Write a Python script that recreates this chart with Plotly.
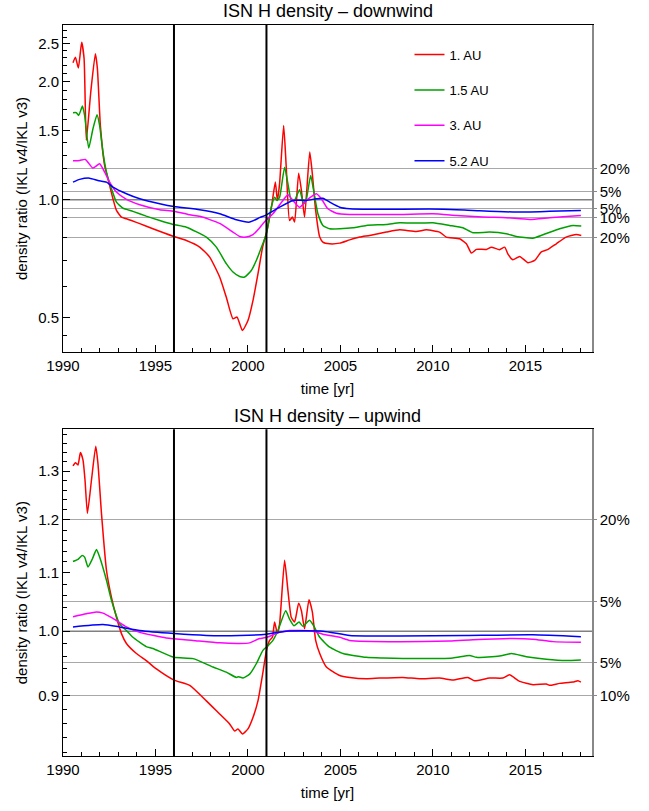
import numpy as np
import plotly.graph_objects as go

# ---------------- data: downwind ----------------
down_t_1au = [1990.54, 1990.67, 1990.83, 1991.01, 1991.14, 1991.26, 1991.5, 1991.75, 1991.86, 1992.02,
              1992.25, 1992.52, 1992.7, 1992.89, 1993.16, 1993.43, 1993.7, 1994.15, 1994.86, 1995.95,
              1996.67, 1997.39, 1997.93, 1998.47, 1998.83, 1999.19, 1999.41, 1999.7, 2000.0, 2000.27,
              2000.54, 2000.8, 2001.03, 2001.27, 2001.48, 2001.59, 2001.71, 2001.93, 2002.07, 2002.25,
              2002.4, 2002.52, 2002.74, 2002.89, 2003.06, 2003.34, 2003.48, 2003.66, 2003.88, 2004.05,
              2004.42, 2004.96, 2005.5, 2006.04, 2006.58, 2007.48, 2008.2, 2009.1, 2009.64, 2010.36,
              2010.72, 2011.44, 2011.81, 2012.08, 2012.35, 2012.89, 2013.16, 2013.6, 2013.88, 2014.05,
              2014.32, 2014.69, 2015.14, 2015.5, 2015.86, 2016.2, 2016.67, 2017.2, 2017.75, 2018.02]
down_1au = [2.236, 2.31, 2.167, 2.52, 2.29, 1.417, 1.88, 2.357, 2.16, 1.547,
            1.223, 1.088, 1.006, 0.939, 0.903, 0.894, 0.885, 0.869, 0.843, 0.807,
            0.787, 0.757, 0.714, 0.635, 0.564, 0.497, 0.502, 0.464, 0.492, 0.553,
            0.647, 0.76, 0.835, 0.957, 1.109, 0.996, 1.099, 1.547, 1.211, 0.885,
            0.903, 0.877, 1.169, 1.056, 0.903, 1.323, 1.165, 0.939, 0.803, 0.78,
            0.772, 0.775, 0.79, 0.803, 0.811, 0.827, 0.838, 0.83, 0.838, 0.827,
            0.803, 0.795, 0.772, 0.731, 0.747, 0.747, 0.757, 0.746, 0.757, 0.728,
            0.703, 0.717, 0.691, 0.70, 0.736, 0.746, 0.772, 0.803, 0.815, 0.811]

down_t_15au = [1990.54, 1990.72, 1990.85, 1991.05, 1991.17, 1991.39, 1991.62, 1991.84, 1991.98, 1992.16,
               1992.35, 1992.62, 1992.89, 1993.24, 1993.78, 1994.5, 1995.23, 1995.95, 1996.67, 1997.75,
               1998.29, 1998.83, 1999.19, 1999.55, 1999.82, 2000.18, 2000.45, 2000.77, 2001.0, 2001.26,
               2001.44, 2001.57, 2001.71, 2001.98, 2002.16, 2002.34, 2002.52, 2002.79, 2003.01, 2003.16,
               2003.39, 2003.55, 2003.78, 2004.05, 2004.42, 2004.96, 2005.68, 2006.4, 2007.48, 2008.2,
               2009.1, 2010.0, 2010.9, 2011.62, 2012.16, 2013.06, 2013.96, 2014.5, 2015.4, 2015.95,
               2016.85, 2017.57, 2018.02]
down_15au = [1.667, 1.667, 1.641, 1.733, 1.641, 1.354, 1.517, 1.648, 1.547, 1.323,
             1.176, 1.067, 0.986, 0.952, 0.934, 0.908, 0.885, 0.865, 0.851, 0.803,
             0.757, 0.687, 0.654, 0.637, 0.635, 0.66, 0.70, 0.765, 0.819, 0.957,
             1.015, 0.996, 1.015, 1.211, 1.099, 0.996, 0.996, 1.061, 0.977, 1.006,
             1.153, 1.056, 0.921, 0.86, 0.843, 0.843, 0.848, 0.86, 0.865, 0.874,
             0.872, 0.874, 0.86, 0.848, 0.824, 0.827, 0.819, 0.806, 0.798, 0.814,
             0.843, 0.86, 0.857]

down_t_3au = [1990.54, 1990.9, 1991.21, 1991.62, 1991.98, 1992.25, 1992.52, 1992.89, 1993.43, 1994.15,
              1995.23, 1996.0, 1996.85, 1997.4, 1998.47, 1999.19, 1999.55, 1999.9, 2000.27, 2000.6,
              2000.81, 2001.0, 2001.35, 2001.89, 2002.16, 2002.43, 2002.79, 2003.16, 2003.7, 2003.97,
              2004.32, 2004.78, 2005.5, 2006.58, 2008.2, 2010.0, 2011.26, 2012.7, 2013.96, 2015.23,
              2016.3, 2017.4, 2018.0]
down_3au = [1.257, 1.259, 1.267, 1.204, 1.235, 1.176, 1.109, 1.046, 1.002, 0.971,
            0.943, 0.935, 0.915, 0.907, 0.870, 0.827, 0.806, 0.803, 0.815, 0.845,
            0.869, 0.889, 0.921, 0.996, 1.03, 0.996, 0.957, 0.996, 1.036, 1.006,
            0.948, 0.924, 0.917, 0.917, 0.917, 0.921, 0.912, 0.903, 0.90, 0.891,
            0.90, 0.908, 0.912]

down_t_52au = [1990.54, 1990.9, 1991.44, 1991.89, 1992.35, 1992.7, 1993.43, 1994.15, 1995.23, 1996.0,
               1997.39, 1998.47, 1999.37, 2000.09, 2000.63, 2001.0, 2001.71, 2002.43, 2003.16, 2003.7,
               2004.05, 2004.42, 2004.96, 2005.5, 2006.58, 2008.2, 2010.54, 2012.16, 2014.5, 2016.3,
               2018.0]
down_52au = [1.109, 1.127, 1.135, 1.12, 1.109, 1.077, 1.036, 1.006, 0.977, 0.961,
             0.943, 0.921, 0.889, 0.877, 0.90, 0.915, 0.957, 0.996, 0.996, 1.006,
             1.009, 0.986, 0.957, 0.948, 0.945, 0.946, 0.946, 0.939, 0.93, 0.934,
             0.939]

# ---------------- data: upwind ----------------
up_t_1au = [1990.54, 1990.67, 1990.81, 1990.94, 1991.08, 1991.19, 1991.32, 1991.54, 1991.77, 1991.89,
            1992.08, 1992.35, 1992.62, 1992.89, 1993.16, 1993.43, 1993.97, 1994.5, 1995.05, 1996.0,
            1996.85, 1997.75, 1998.47, 1999.01, 1999.28, 1999.46, 1999.7, 2000.0, 2000.27, 2000.54,
            2000.81, 2001.0, 2001.17, 2001.32, 2001.44, 2001.59, 2001.71, 2001.98, 2002.16, 2002.34,
            2002.52, 2002.74, 2002.89, 2003.06, 2003.3, 2003.48, 2003.66, 2003.88, 2004.24, 2004.96,
            2005.5, 2006.4, 2007.12, 2008.38, 2009.28, 2010.36, 2011.08, 2011.89, 2012.25, 2013.06,
            2013.78, 2014.14, 2014.69, 2015.41, 2016.13, 2016.3, 2016.85, 2017.57, 2017.84, 2018.0]
up_1au = [1.311, 1.318, 1.313, 1.34, 1.324, 1.281, 1.213, 1.281, 1.354, 1.316,
          1.213, 1.105, 1.057, 1.023, 0.996, 0.98, 0.964, 0.953, 0.94, 0.923,
          0.915, 0.892, 0.873, 0.859, 0.849, 0.852, 0.845, 0.852, 0.868, 0.892,
          0.935, 0.969, 0.985, 0.99, 1.015, 0.996, 1.012, 1.123, 1.069, 1.023,
          1.015, 1.047, 1.034, 1.004, 1.053, 1.032, 0.985, 0.964, 0.943, 0.93,
          0.927, 0.925, 0.926, 0.927, 0.925, 0.926, 0.923, 0.927, 0.922, 0.926,
          0.926, 0.931, 0.921, 0.916, 0.917, 0.915, 0.918, 0.92, 0.922, 0.92]

up_t_15au = [1990.54, 1990.81, 1991.03, 1991.17, 1991.35, 1991.59, 1991.81, 1991.98, 1992.35, 1992.62,
             1993.06, 1993.43, 1993.78, 1994.5, 1994.86, 1996.0, 1997.03, 1998.11, 1998.83, 1999.37,
             1999.5, 1999.73, 2000.09, 2000.45, 2000.81, 2001.1, 2001.35, 2001.62, 2002.04, 2002.25,
             2002.49, 2002.76, 2002.97, 2003.33, 2003.55, 2003.88, 2004.42, 2005.14, 2006.4, 2007.3,
             2009.1, 2011.08, 2011.98, 2012.35, 2013.6, 2014.24, 2015.05, 2016.13, 2017.2, 2018.0]
up_15au = [1.121, 1.125, 1.132, 1.129, 1.111, 1.126, 1.143, 1.129, 1.087, 1.052,
           1.012, 1.001, 0.99, 0.975, 0.972, 0.958, 0.956, 0.943, 0.935, 0.927,
           0.928, 0.926, 0.932, 0.948, 0.969, 0.977, 0.985, 1.001, 1.034, 1.02,
           1.009, 1.015, 1.008, 1.018, 1.009, 0.99, 0.974, 0.964, 0.958, 0.957,
           0.956, 0.957, 0.961, 0.958, 0.96, 0.964, 0.959, 0.955, 0.953, 0.954]

up_t_3au = [1990.54, 1991.26, 1991.81, 1992.16, 1992.7, 1993.43, 1994.15, 1995.59, 1997.03, 1998.47,
            1999.55, 2000.09, 2000.63, 2001.0, 2001.71, 2002.25, 2003.5, 2004.05, 2004.96, 2005.5,
            2008.2, 2010.9, 2012.16, 2014.32, 2015.4, 2016.49, 2018.0]
up_3au = [1.024, 1.029, 1.032, 1.030, 1.021, 1.007, 0.998, 0.989, 0.985, 0.981,
          0.98, 0.981, 0.988, 0.99, 0.998, 1.001, 1.0, 0.995, 0.99, 0.985,
          0.983, 0.984, 0.986, 0.988, 0.987, 0.983, 0.982]

up_t_52au = [1990.54, 1992.16, 1993.06, 1994.15, 1996.0, 1997.75, 1999.55, 2001.0, 2002.07, 2004.05,
             2005.5, 2008.2, 2011.81, 2015.4, 2018.0]
up_52au = [1.007, 1.011, 1.007, 1.001, 0.996, 0.993, 0.993, 0.995, 1.0, 1.0,
           0.993, 0.992, 0.993, 0.994, 0.991]

# ---------------- reference levels and tick labels ----------------
series_names = ["1. AU", "1.5 AU", "3. AU", "5.2 AU"]
series_colors = ["#ff0000", "#00a000", "#ff00ff", "#0000ff"]

down_levels = [1.2, 1.05, 0.95, 0.9, 0.8]
down_level_labels = ["20%", "5%", "5%", "10%", "20%"]
up_levels = [1.2, 1.05, 0.95, 0.9]
up_level_labels = ["20%", "5%", "5%", "10%"]

down_ticks = [0.5, 1.0, 1.5, 2.0, 2.5]
down_tick_labels = ["0.5", "1.0", "1.5", "2.0", "2.5"]
up_ticks = [0.9, 1.0, 1.1, 1.2, 1.3]
up_tick_labels = ["0.9", "1.0", "1.1", "1.2", "1.3"]

year_ticks = [1990, 1995, 2000, 2005, 2010, 2015]
event_years = [1996, 2001]

FONT = "Liberation Sans, Arial, Helvetica, sans-serif"

fig = go.Figure()

down_sets = [(down_t_1au, down_1au), (down_t_15au, down_15au), (down_t_3au, down_3au), (down_t_52au, down_52au)]
up_sets = [(up_t_1au, up_1au), (up_t_15au, up_15au), (up_t_3au, up_3au), (up_t_52au, up_52au)]

for i, (t, v) in enumerate(down_sets):
    fig.add_trace(go.Scatter(x=t, y=v, mode="lines", name=series_names[i],
                             line=dict(color=series_colors[i], width=1.5, shape="spline", smoothing=0.5),
                             legendgroup=series_names[i], xaxis="x", yaxis="y"))
for i, (t, v) in enumerate(up_sets):
    fig.add_trace(go.Scatter(x=t, y=v, mode="lines", name=series_names[i], showlegend=False,
                             line=dict(color=series_colors[i], width=1.5, shape="spline", smoothing=0.5),
                             legendgroup=series_names[i], xaxis="x2", yaxis="y2"))

# placeholders so the right-hand percentage axes are drawn
fig.add_trace(go.Scatter(x=[None], y=[None], xaxis="x", yaxis="y3", showlegend=False, hoverinfo="skip"))
fig.add_trace(go.Scatter(x=[None], y=[None], xaxis="x2", yaxis="y4", showlegend=False, hoverinfo="skip"))

down_range = [np.log10(0.409), np.log10(2.79)]
up_range = [np.log10(0.815), np.log10(1.392)]

down_minor = [round(v, 2) for v in np.arange(0.6, 2.75, 0.1) if round(v, 2) not in down_ticks] + [0.45]
up_minor = [round(v, 2) for v in np.arange(0.82, 1.39, 0.02) if not any(abs(round(v, 2) - m) < 1e-6 for m in up_ticks)]
year_minor = list(range(1990, 2019))

tickfont = dict(family=FONT, size=15, color="black")
titlefont = dict(family=FONT, size=15, color="black")


def xaxis_cfg(anchor):
    return dict(anchor=anchor, domain=[0, 1], range=[1990, 2018.6], tickvals=year_ticks,
                ticks="inside", ticklen=7, tickcolor="black", tickwidth=1,
                minor=dict(tickvals=year_minor, ticks="inside", ticklen=4, tickcolor="black", showgrid=False),
                showline=True, linecolor="black", linewidth=1, mirror=True,
                showgrid=False, zeroline=False, tickfont=tickfont,
                title=dict(text="time [yr]", font=titlefont, standoff=10))


def yaxis_cfg(anchor, dom, rng, tv, tt, minor):
    return dict(anchor=anchor, domain=dom, type="log", range=rng, tickvals=tv, ticktext=tt,
                ticks="inside", ticklen=7, tickcolor="black", tickwidth=1,
                minor=dict(tickvals=minor, ticks="inside", ticklen=4, tickcolor="black", showgrid=False),
                showline=True, linecolor="black", linewidth=1, mirror=False,
                showgrid=False, zeroline=False, tickfont=tickfont,
                title=dict(text="density ratio (IKL v4/IKL v3)", font=titlefont, standoff=6))


def pct_axis_cfg(over, anchor, rng, tv, tt):
    return dict(overlaying=over, anchor=anchor, side="right", type="log", range=rng,
                tickvals=tv, ticktext=tt, ticks="outside", ticklen=3, tickcolor="#888888",
                showline=True, linecolor="#888888", linewidth=1.5,
                showgrid=True, gridcolor="#a8a8a8", gridwidth=1.2, zeroline=False,
                tickfont=tickfont)


top_dom = [0.5527, 1.0]
bot_dom = [0.0, 0.4469]

fig.update_layout(
    width=649, height=811,
    margin=dict(l=63, r=57, t=25, b=55),
    paper_bgcolor="white", plot_bgcolor="white",
    font=dict(family=FONT, size=15, color="black"),
    xaxis=xaxis_cfg("y"),
    xaxis2=xaxis_cfg("y2"),
    yaxis=yaxis_cfg("x", top_dom, down_range, down_ticks, down_tick_labels, down_minor),
    yaxis2=yaxis_cfg("x2", bot_dom, up_range, up_ticks, up_tick_labels, up_minor),
    yaxis3=pct_axis_cfg("y", "x", down_range, down_levels, down_level_labels),
    yaxis4=pct_axis_cfg("y2", "x2", up_range, up_levels, up_level_labels),
    legend=dict(x=0.655, y=0.98, xanchor="left", yanchor="top", bgcolor="rgba(0,0,0,0)",
                font=dict(family=FONT, size=13, color="black"), tracegroupgap=15.5,
                borderwidth=0),
    showlegend=True,
)

# unit-ratio line and the two event markers in each panel
shapes = []
for yref, xref in (("y", "x"), ("y2", "x2")):
    shapes.append(dict(type="line", xref="paper", x0=0, x1=1, yref=yref, y0=1.0, y1=1.0,
                       line=dict(color="#808080", width=1.5), layer="below"))
    for yr in event_years:
        shapes.append(dict(type="line", xref=xref, x0=yr, x1=yr, yref=yref + " domain", y0=0, y1=1,
                           line=dict(color="black", width=2)))
fig.update_layout(shapes=shapes)

fig.add_annotation(text="ISN H density \u2013 downwind", xref="paper", yref="paper", x=0.5, y=1.0,
                   xanchor="center", yanchor="bottom", yshift=2, showarrow=False,
                   font=dict(family=FONT, size=18, color="black"))
fig.add_annotation(text="ISN H density \u2013 upwind", xref="paper", yref="paper", x=0.5, y=bot_dom[1],
                   xanchor="center", yanchor="bottom", yshift=1, showarrow=False,
                   font=dict(family=FONT, size=18, color="black"))

fig.write_html("out.html")
